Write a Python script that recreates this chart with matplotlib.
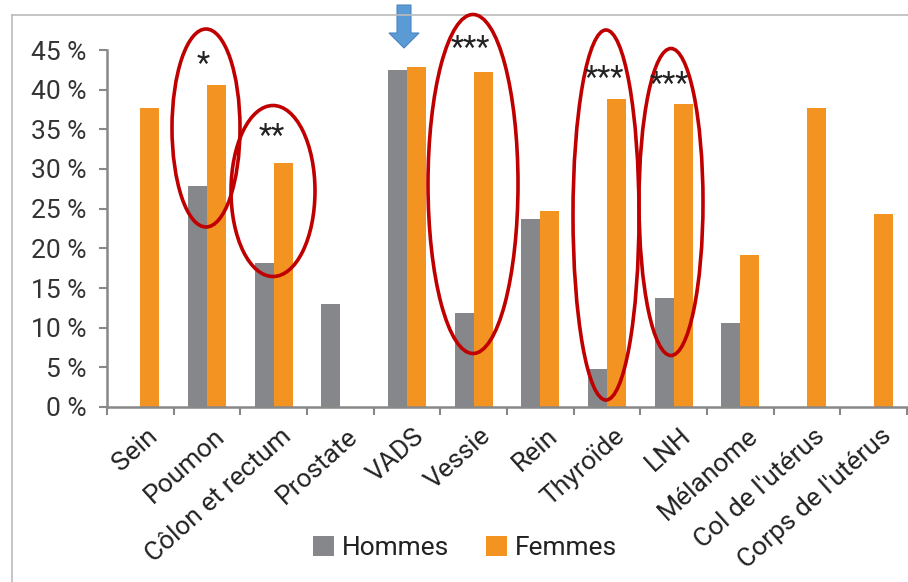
import matplotlib
matplotlib.use("Agg")
import matplotlib.pyplot as plt
import matplotlib.transforms as mtransforms
import numpy as np
from matplotlib.patches import Ellipse, FancyArrow

plt.rcParams['font.family'] = ['Roboto', 'DejaVu Sans']

categories = ["Sein", "Poumon", "Côlon et rectum", "Prostate", "VADS", "Vessie",
              "Rein", "Thyroïde", "LNH", "Mélanome", "Col de l'utérus", "Corps de l'utérus"]
hommes = [0, 27.8, 18.1, 13.0, 42.5, 11.9, 23.7, 4.8, 13.7, 10.6, 0, 0]
femmes = [37.7, 40.6, 30.8, 0, 42.8, 42.2, 24.7, 38.8, 38.2, 19.2, 37.7, 24.3]
yticks = [0, 5, 10, 15, 20, 25, 30, 35, 40, 45]
ytick_labels = ["0 %", "5 %", "10 %", "15 %", "20 %", "25 %", "30 %", "35 %", "40 %", "45 %"]
sig_stars = ["*", "**", "***", "***", "***"]

GRAY = "#86878b"
ORANGE = "#f39322"
RED = "#c00000"

fig = plt.figure(figsize=(9.08, 5.82), dpi=100)
ax = fig.add_axes([107/908, 1 - 407/582, 800/908, 357/582])

x = np.arange(len(categories))
w = 0.285
ax.bar(x - w/2, hommes, width=w, color=GRAY, label="Hommes", zorder=2)
ax.bar(x + w/2, femmes, width=w, color=ORANGE, label="Femmes", zorder=2)

ax.set_xlim(-0.5, len(categories) - 0.5)
ax.set_ylim(0, 45)
ax.set_yticks(yticks)
ax.set_yticklabels(ytick_labels, fontsize=19, color="#333333")
ax.tick_params(axis='y', length=6, width=1.5, color="#888888", pad=9)

ax.set_xticks(x)
ax.set_xticklabels(categories, rotation=42, ha='right', va='top', rotation_mode='anchor',
                   fontsize=19, color="#222222")
ax.tick_params(axis='x', which='major', length=0, pad=12)
offset = mtransforms.ScaledTranslation(0.06, 0, fig.dpi_scale_trans)
for lbl in ax.get_xticklabels():
    lbl.set_transform(lbl.get_transform() + offset)
ax.set_xticks(np.arange(-0.5, len(categories), 1), minor=True)
ax.tick_params(axis='x', which='minor', length=6, width=1.5, color="#888888")

for s in ["top", "right"]:
    ax.spines[s].set_visible(False)
for s in ["left", "bottom"]:
    ax.spines[s].set_color("#888888")
    ax.spines[s].set_linewidth(1.8)

ellipses_px = [(206, 128, 68, 198), (273, 191, 84, 171), (473, 184, 90, 339),
               (606, 215, 66, 370), (671, 202, 64, 307)]
stars_px = [(203, 64), (272, 136), (470, 48), (604, 78), (669, 84)]
for (cx, cy, ew, eh), (sx, sy), st in zip(ellipses_px, stars_px, sig_stars):
    e = Ellipse((cx/908, 1 - cy/582), ew/908, eh/582, transform=fig.transFigure,
                fill=False, edgecolor=RED, linewidth=2.6, zorder=5, clip_on=False)
    fig.add_artist(e)
    fig.text(sx/908, 1 - sy/582, st, ha='center', va='center', fontsize=22,
             color="#222222", zorder=6)

arrow = FancyArrow(404/908, 1 - 5/582, 0, -(43)/582, width=14/908, head_width=30/908,
                   head_length=15/582, length_includes_head=True,
                   transform=fig.transFigure, color="#5b9bd5", ec="#4a86c0", lw=0.8)
fig.add_artist(arrow)

fig.add_artist(plt.Line2D([12/908, 12/908], [0, 1 - 15/582], transform=fig.transFigure,
                          color="#bbbbbb", lw=1.2))
fig.add_artist(plt.Line2D([12/908, 1], [1 - 15/582, 1 - 15/582], transform=fig.transFigure,
                          color="#bbbbbb", lw=1.2))

leg = fig.legend(loc='center', bbox_to_anchor=(465/908, 1 - 548/582), ncol=2, frameon=False,
                 fontsize=19, handlelength=0.8, handleheight=0.8, handletextpad=0.3,
                 columnspacing=1.4)
for t in leg.get_texts():
    t.set_color("#222222")

fig.savefig("out.png", dpi=100)
